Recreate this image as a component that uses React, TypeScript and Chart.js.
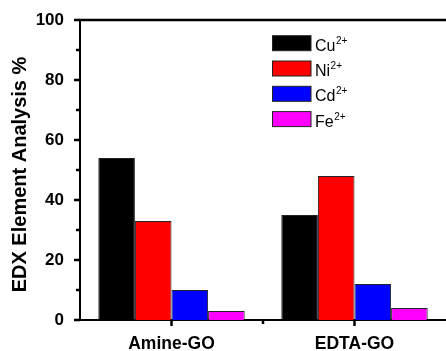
import React, { useEffect, useRef } from "react";
import { Chart, registerables } from "chart.js";

Chart.register(...registerables);

const categories = ["Amine-GO", "EDTA-GO"];
const ionNames = ["Cu", "Ni", "Cd", "Fe"];
const ionCharges = ["2+", "2+", "2+", "2+"];
const ionColors = ["#000000", "#ff0000", "#0000ff", "#ff00ff"];
const cuValues = [54, 35];
const niValues = [33, 48];
const cdValues = [10, 12];
const feValues = [3, 4];
const yTickLabels = [0, 20, 40, 60, 80, 100];
const yTitle = "EDX Element Analysis %";

const FONT = "'Liberation Sans', Arial, sans-serif";

const framePlugin = {
  id: "frame",
  afterDraw(chart: any) {
    const ctx = chart.ctx;
    const area = chart.chartArea;
    const xs = chart.scales.x;
    const ys = chart.scales.y;
    ctx.save();
    ctx.fillStyle = "#000";
    // top border
    ctx.fillRect(area.left - 1, area.top - 1.25, 447 - area.left, 2.5);
    // y ticks
    for (let v = 0; v <= 100; v += 10) {
      const y = ys.getPixelForValue(v);
      const len = v % 20 === 0 ? 6 : 4;
      ctx.fillRect(area.left - len, y - 1.25, len, 2.5);
    }
    // x ticks
    const n = categories.length;
    const b = area.bottom;
    for (let i = 0; i < n; i++) {
      const x = xs.getPixelForValue(i);
      ctx.fillRect(x - 1.25, b, 2.5, 6);
      if (i < n - 1) {
        const xm = (x + xs.getPixelForValue(i + 1)) / 2;
        ctx.fillRect(xm - 1.25, b, 2.5, 4);
      }
    }
    // y title
    ctx.font = `bold 20px ${FONT}`;
    ctx.textAlign = "center";
    ctx.textBaseline = "middle";
    ctx.translate(20, 174.5);
    ctx.rotate(-Math.PI / 2);
    ctx.fillText(yTitle, 0, 0);
    ctx.restore();

    // legend
    ctx.save();
    const boxX = 272.5;
    const boxW = 38.5;
    const boxH = 15;
    const top0 = 35.7;
    const step = 25.3;
    chart.data.datasets.forEach((ds: any, i: number) => {
      const top = top0 + i * step;
      ctx.fillStyle = ds.backgroundColor;
      ctx.fillRect(boxX, top, boxW, boxH);
      ctx.strokeStyle = "#222";
      ctx.lineWidth = 1;
      ctx.strokeRect(boxX, top, boxW, boxH);
      ctx.fillStyle = "#000";
      ctx.textAlign = "left";
      ctx.textBaseline = "alphabetic";
      ctx.font = `16px ${FONT}`;
      const base = top + boxH;
      ctx.fillText(ionNames[i], 315, base);
      const w = ctx.measureText(ionNames[i]).width;
      ctx.font = `10px ${FONT}`;
      ctx.fillText(ionCharges[i], 315 + w + 0.5, base - 7);
    });
    ctx.restore();
  },
};

export default function App() {
  const ref = useRef<HTMLCanvasElement | null>(null);
  useEffect(() => {
    document.body.style.margin = "0";
    const canvas = ref.current;
    if (!canvas) return;
    const values = [cuValues, niValues, cdValues, feValues];
    const chart = new Chart(canvas, {
      type: "bar",
      data: {
        labels: categories,
        datasets: ionNames.map((name, i) => ({
          label: name + ionCharges[i],
          data: values[i],
          backgroundColor: ionColors[i],
          borderColor: "#222",
          borderWidth: 1,
          barPercentage: 1,
          categoryPercentage: 0.8,
        })),
      },
      options: {
        animation: false,
        responsive: false,
        maintainAspectRatio: false,
        layout: { padding: { top: 20, right: 0, left: 0, bottom: 0 } },
        plugins: {
          legend: { display: false },
          tooltip: { enabled: false },
          title: { display: false },
        },
        scales: {
          x: {
            grid: { display: false, drawTicks: false },
            border: { display: true, color: "#000", width: 2 },
            ticks: {
              color: "#000",
              font: { family: FONT, size: 17.5, weight: "bold" },
              padding: 14,
            },
            afterFit(scale: any) {
              scale.height = 31;
              scale.paddingLeft = 0;
              scale.paddingRight = 0;
            },
          },
          y: {
            min: 0,
            max: 100,
            grid: { display: false, drawTicks: false },
            border: { display: true, color: "#000", width: 2 },
            ticks: {
              stepSize: 10,
              color: "#000",
              font: { family: FONT, size: 17, weight: "bold" },
              padding: 16,
              callback: (v: any) => (yTickLabels.includes(Number(v)) ? String(v) : ""),
            },
            afterFit(scale: any) {
              scale.width = 80;
              scale.paddingTop = 0;
              scale.paddingBottom = 0;
            },
          },
        },
      },
      plugins: [framePlugin],
    });
    return () => chart.destroy();
  }, []);
  return (
    <div style={{ width: 446, height: 351 }}>
      <canvas ref={ref} width={446} height={351} style={{ display: "block", width: 446, height: 351 }} />
    </div>
  );
}
